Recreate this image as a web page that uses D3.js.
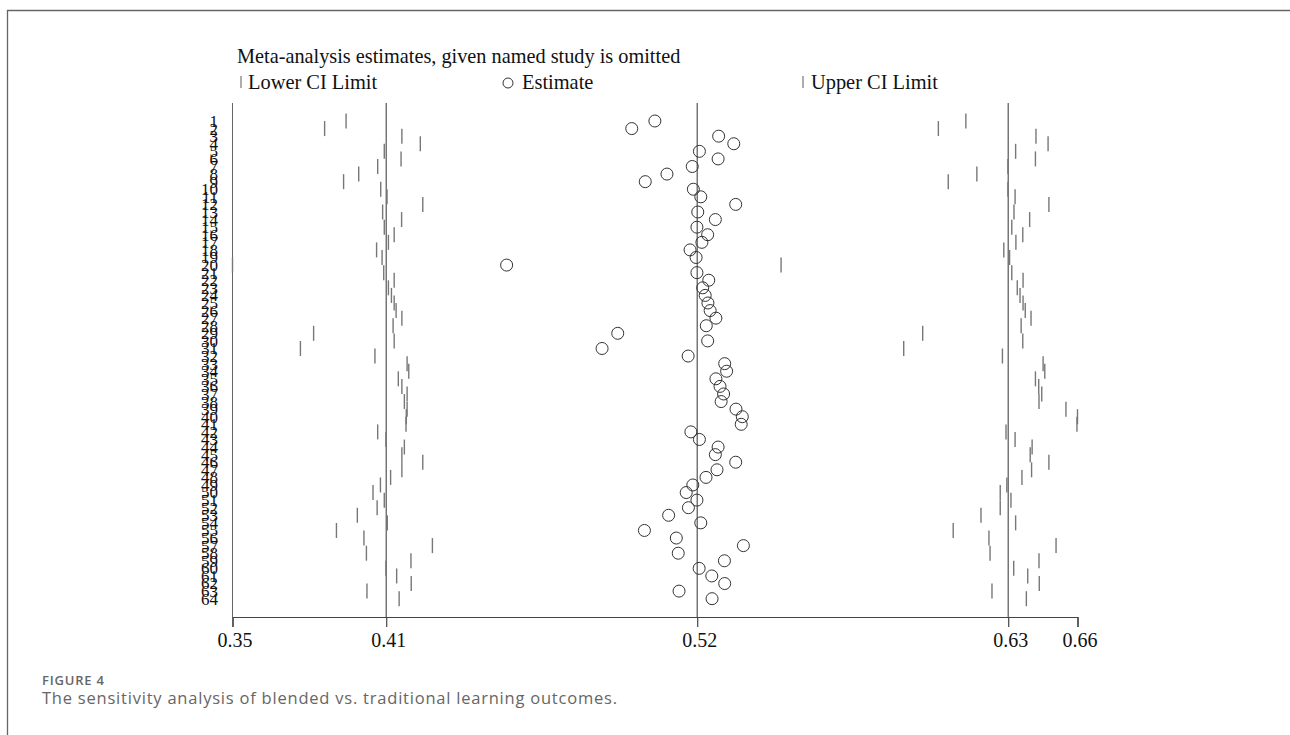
<!DOCTYPE html>
<html><head><meta charset="utf-8">
<script src="https://cdn.jsdelivr.net/npm/d3@7"></script>
<style>body{margin:0;background:#fff;overflow:hidden}</style>
</head><body>
<svg id="chart" width="1290" height="735"></svg>
<script>
const studies = ["1","2","3","4","5","6","7","8","9","10","11","12","13","14","15","16","17","18","19","20",
"21","22","23","24","25","26","27","28","29","30","31","32","33","34","35","36","37","38","39","40",
"41","42","43","44","45","46","47","48","49","50","51","52","53","54","55","56","57","58","59","60",
"61","62","63","64"];
const estimate = [0.5036,0.4952,0.5268,0.5323,0.5198,0.5266,0.5172,0.5080,0.5001,0.5176,
0.5203,0.5330,0.5192,0.5256,0.5189,0.5228,0.5207,0.5164,0.5186,0.4497,
0.5189,0.5232,0.5210,0.5219,0.5229,0.5237,0.5258,0.5223,0.4901,0.5228,
0.4844,0.5157,0.5290,0.5297,0.5258,0.5273,0.5286,0.5277,0.5331,0.5354,
0.5350,0.5167,0.5198,0.5266,0.5256,0.5330,0.5262,0.5222,0.5174,0.5150,
0.5189,0.5158,0.5086,0.5203,0.4998,0.5114,0.5358,0.5121,0.5289,0.5197,
0.5243,0.5290,0.5124,0.5244];
const lowerCI = [0.3913,0.3835,0.4116,0.4183,0.4052,0.4113,0.4028,0.3959,0.3904,0.4039,
0.4062,0.4192,0.4046,0.4115,0.4052,0.4088,0.4067,0.4024,0.4044,0.3500,
0.4050,0.4088,0.4067,0.4078,0.4088,0.4095,0.4116,0.4084,0.3795,0.4088,
0.3747,0.4018,0.4135,0.4141,0.4103,0.4116,0.4135,0.4125,0.4135,0.4132,
0.4131,0.4028,0.4058,0.4125,0.4116,0.4192,0.4116,0.4075,0.4038,0.4011,
0.4052,0.4026,0.3954,0.4063,0.3878,0.3978,0.4227,0.3987,0.4149,0.4058,
0.4097,0.4150,0.3989,0.4106];
const upperCI = [0.6167,0.6067,0.6422,0.6466,0.6348,0.6420,0.6320,0.6207,0.6103,0.6320,
0.6346,0.6469,0.6342,0.6399,0.6334,0.6374,0.6349,0.6305,0.6326,0.5495,
0.6334,0.6375,0.6354,0.6364,0.6375,0.6383,0.6404,0.6368,0.6010,0.6374,
0.5941,0.6300,0.6448,0.6454,0.6420,0.6432,0.6443,0.6433,0.6531,0.6573,
0.6571,0.6313,0.6346,0.6408,0.6401,0.6469,0.6406,0.6371,0.6316,0.6292,
0.6331,0.6292,0.6222,0.6348,0.6121,0.6251,0.6495,0.6255,0.6433,0.6341,
0.6392,0.6434,0.6262,0.6387];
// overall (all studies) lower CI, estimate, upper CI
const overall = [0.4059, 0.5190, 0.6321];
const tickLabels = ["0.35","0.41","0.52","0.63","0.66"];
const titleText = "Meta-analysis estimates, given named study is omitted";
const legendLabels = ["Lower CI Limit","Estimate","Upper CI Limit"];
const figLabel = "FIGURE 4";
const captionText = "The sensitivity analysis of blended vs. traditional learning outcomes.";

const svg = d3.select("#chart");
const serif = "'Liberation Serif','Times New Roman',serif";
const sans = "'Open Sans','Noto Sans',sans-serif";

// frame
svg.append("path").attr("d","M7.5,735V10.5H1290").attr("fill","none").attr("stroke","#666").attr("stroke-width",1.3);

const xMin = d3.min(lowerCI), xMax = d3.max(upperCI);
const x = d3.scaleLinear().domain([xMin, xMax]).range([232.5, 1077.5]);
const y = d3.scalePoint().domain(studies).range([121, 598.7]);
const plotTop = 103, axisY = 617;

// y-axis line & reference lines
svg.append("line").attr("x1",x(xMin)).attr("x2",x(xMin)).attr("y1",plotTop).attr("y2",axisY)
  .attr("stroke","#666").attr("stroke-width",1);
svg.selectAll("line.ref").data(overall).join("line").attr("class","ref")
  .attr("x1",d=>x(d)).attr("x2",d=>x(d)).attr("y1",plotTop).attr("y2",axisY)
  .attr("stroke","#555").attr("stroke-width",1.2);

// x axis
const tickVals = [xMin, overall[0], overall[1], overall[2], xMax];
const axis = d3.axisBottom(x).tickValues(tickVals).tickSize(10).tickPadding(6)
  .tickFormat((d,i)=>tickLabels[i]);
const gx = svg.append("g").attr("transform",`translate(0,${axisY})`).call(axis);
gx.select(".domain").attr("stroke","#444").attr("stroke-width",1.2);
gx.selectAll(".tick line").attr("stroke","#444").attr("stroke-width",1.2);
gx.selectAll(".tick text").attr("font-family",serif).attr("font-size",20).attr("fill","#111").attr("dx",2);

// y labels
svg.selectAll("text.ylab").data(studies).join("text").attr("class","ylab")
  .attr("x",218).attr("y",d=>y(d)).attr("dy","0.35em").attr("text-anchor","end")
  .attr("font-family",serif).attr("font-size",17).attr("fill","#111").text(d=>d);

// CI markers
const rows = studies.map((s,i)=>({s, lo:lowerCI[i], est:estimate[i], hi:upperCI[i]}));
const half = 7.5;
svg.selectAll("line.lo").data(rows).join("line").attr("class","lo")
  .attr("x1",d=>x(d.lo)).attr("x2",d=>x(d.lo)).attr("y1",d=>y(d.s)-half).attr("y2",d=>y(d.s)+half)
  .attr("stroke","#777").attr("stroke-width",1.4);
svg.selectAll("line.hi").data(rows).join("line").attr("class","hi")
  .attr("x1",d=>x(d.hi)).attr("x2",d=>x(d.hi)).attr("y1",d=>y(d.s)-half).attr("y2",d=>y(d.s)+half)
  .attr("stroke","#777").attr("stroke-width",1.4);
svg.selectAll("circle.est").data(rows).join("circle").attr("class","est")
  .attr("cx",d=>x(d.est)).attr("cy",d=>y(d.s)).attr("r",6)
  .attr("fill","none").attr("stroke","#333").attr("stroke-width",1);

// title & legend
svg.append("text").attr("x",237).attr("y",63).attr("font-family",serif).attr("font-size",20.3)
  .attr("fill","#111").text(titleText);
const legY = 89, legFont = 20.4;
svg.append("line").attr("x1",241).attr("x2",241).attr("y1",legY-13).attr("y2",legY-1)
  .attr("stroke","#777").attr("stroke-width",1.2);
svg.append("text").attr("x",248).attr("y",legY).attr("font-family",serif).attr("font-size",legFont)
  .attr("fill","#111").text(legendLabels[0]);
svg.append("circle").attr("cx",508).attr("cy",legY-6).attr("r",5)
  .attr("fill","none").attr("stroke","#333").attr("stroke-width",1);
svg.append("text").attr("x",522).attr("y",legY).attr("font-family",serif).attr("font-size",legFont)
  .attr("fill","#111").text(legendLabels[1]);
svg.append("line").attr("x1",803).attr("x2",803).attr("y1",legY-13).attr("y2",legY-1)
  .attr("stroke","#777").attr("stroke-width",1.2);
svg.append("text").attr("x",811).attr("y",legY).attr("font-family",serif).attr("font-size",legFont)
  .attr("fill","#111").text(legendLabels[2]);

// caption
svg.append("text").attr("x",42).attr("y",685).attr("font-family",sans).attr("font-size",13)
  .attr("font-weight",600).attr("fill","#666").attr("textLength",62).attr("lengthAdjust","spacing")
  .text(figLabel);
svg.append("text").attr("x",42).attr("y",704).attr("font-family",sans).attr("font-size",16.5)
  .attr("fill","#666").attr("textLength",575).attr("lengthAdjust","spacing").text(captionText);
</script>
</body></html>
